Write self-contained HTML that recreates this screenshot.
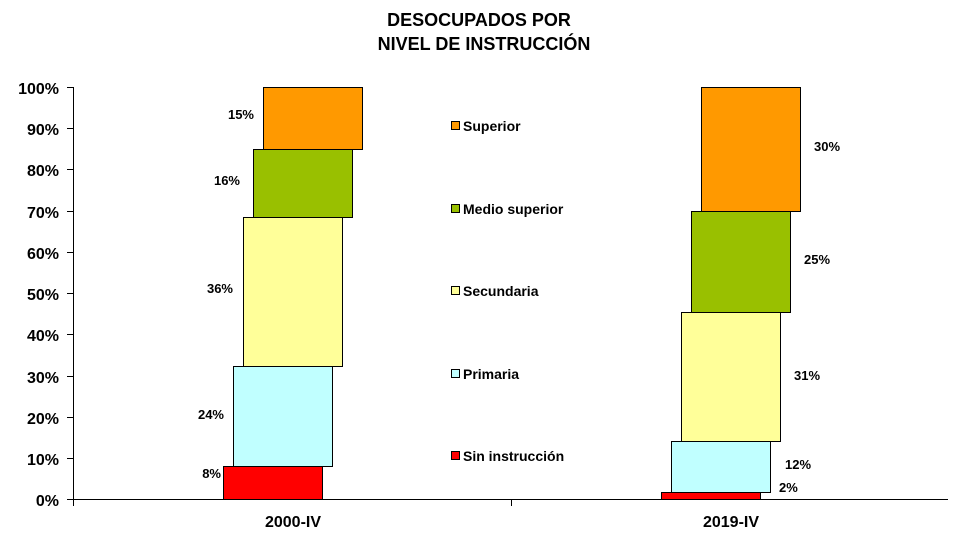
<!DOCTYPE html>
<html><head><style>body{margin:0;background:#fff}svg{display:block}text{font-family:"Liberation Sans",Arial,sans-serif;font-weight:bold;fill:#000}</style></head>
<body>
<svg width="958" height="541" viewBox="0 0 958 541">
<text x="479" y="26" font-size="18" text-anchor="middle">DESOCUPADOS POR</text>
<text x="484" y="50" font-size="18" text-anchor="middle">NIVEL DE INSTRUCCIÓN</text>
<g stroke="#000" stroke-width="1">
<line x1="73.5" y1="87" x2="73.5" y2="506"/>
<line x1="73" y1="499.5" x2="948" y2="499.5"/>
<line x1="511.5" y1="499" x2="511.5" y2="506"/>
<line x1="67" y1="87.5" x2="73" y2="87.5"/><line x1="67" y1="128.5" x2="73" y2="128.5"/><line x1="67" y1="169.5" x2="73" y2="169.5"/><line x1="67" y1="211.5" x2="73" y2="211.5"/><line x1="67" y1="252.5" x2="73" y2="252.5"/><line x1="67" y1="293.5" x2="73" y2="293.5"/><line x1="67" y1="334.5" x2="73" y2="334.5"/><line x1="67" y1="376.5" x2="73" y2="376.5"/><line x1="67" y1="417.5" x2="73" y2="417.5"/><line x1="67" y1="458.5" x2="73" y2="458.5"/><line x1="67" y1="499.5" x2="73" y2="499.5"/>
<rect x="223.5" y="466.5" width="99" height="33" fill="#ff0000"/>
<rect x="233.5" y="366.5" width="99" height="100" fill="#c0ffff"/>
<rect x="243.5" y="217.5" width="99" height="149" fill="#ffff99"/>
<rect x="253.5" y="149.5" width="99" height="68" fill="#99c000"/>
<rect x="263.5" y="87.5" width="99" height="62" fill="#ff9900"/>
<rect x="661.5" y="492.5" width="99" height="7" fill="#ff0000"/>
<rect x="671.5" y="441.5" width="99" height="51" fill="#c0ffff"/>
<rect x="681.5" y="312.5" width="99" height="129" fill="#ffff99"/>
<rect x="691.5" y="211.5" width="99" height="101" fill="#99c000"/>
<rect x="701.5" y="87.5" width="99" height="124" fill="#ff9900"/>
<rect x="451.5" y="121.5" width="8" height="8" fill="#ff9900"/>
<rect x="451.5" y="204.5" width="8" height="8" fill="#99c000"/>
<rect x="451.5" y="286.5" width="8" height="8" fill="#ffff99"/>
<rect x="451.5" y="369.5" width="8" height="8" fill="#c0ffff"/>
<rect x="451.5" y="451.5" width="8" height="8" fill="#ff0000"/>
</g>
<g font-size="16" text-anchor="end">
<text x="59" y="94">100%</text><text x="59" y="135">90%</text><text x="59" y="176">80%</text><text x="59" y="218">70%</text><text x="59" y="259">60%</text><text x="59" y="300">50%</text><text x="59" y="341">40%</text><text x="59" y="383">30%</text><text x="59" y="424">20%</text><text x="59" y="465">10%</text><text x="59" y="506">0%</text>
</g>
<g font-size="13" text-anchor="end">
<text x="254" y="119">15%</text><text x="240" y="185">16%</text><text x="233" y="293">36%</text><text x="224" y="419">24%</text><text x="221" y="478">8%</text>
</g>
<g font-size="13">
<text x="814" y="151">30%</text><text x="804" y="264">25%</text><text x="794" y="380">31%</text><text x="785" y="469">12%</text><text x="779" y="492">2%</text>
</g>
<g font-size="14">
<text x="463" y="131">Superior</text><text x="463" y="214">Medio superior</text><text x="463" y="296">Secundaria</text><text x="463" y="379">Primaria</text><text x="463" y="461">Sin instrucción</text>
</g>
<g font-size="16" text-anchor="middle">
<text x="293" y="527">2000-IV</text><text x="731" y="527">2019-IV</text>
</g>
</svg>
</body></html>
